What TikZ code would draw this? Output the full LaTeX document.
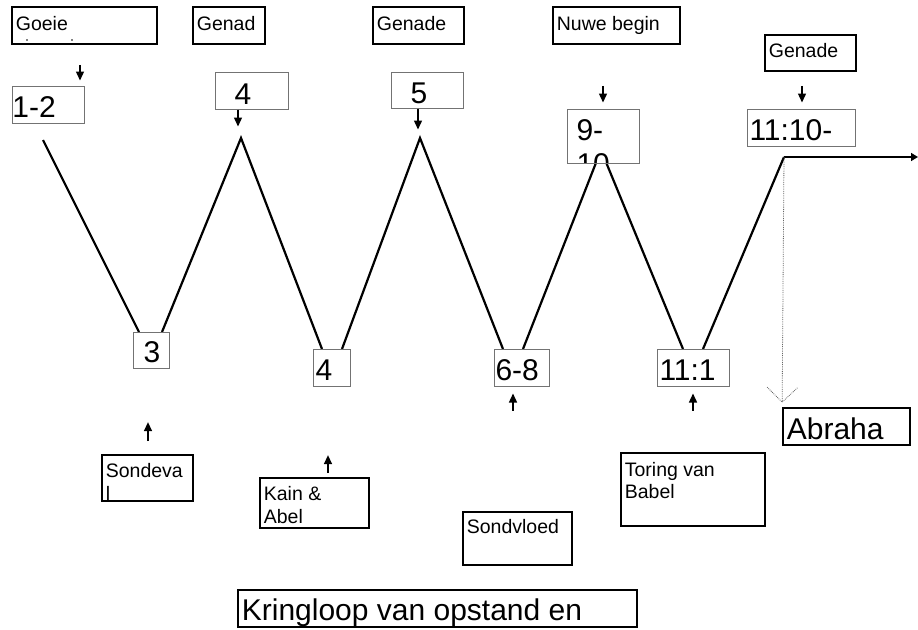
\documentclass[tikz,border=0pt]{standalone}
\usepackage{fontspec}
\setmainfont{Liberation Sans}
\usetikzlibrary{arrows.meta}
\newcommand\stxt[3]{\node[anchor=base west, inner sep=0pt, minimum width=0pt, minimum height=0pt, draw=none, fill=none, font=\fontsize{19.5}{22.5}\selectfont] at ([shift={(#1,#2)}]path picture bounding box.north west) {#3};}
\newcommand\ltxt[3]{\node[anchor=base west, inner sep=0pt, minimum width=0pt, minimum height=0pt, draw=none, fill=none, font=\fontsize{30}{34}\selectfont] at ([shift={(#1,#2)}]path picture bounding box.north west) {#3};}
\begin{document}
\begin{tikzpicture}[x=1pt,y=-1pt,
  tbox/.style={rectangle, draw=black, line width=1.7pt, fill=white, inner sep=0pt},
  nbox/.style={rectangle, draw=black!55, line width=1pt, fill=white, inner sep=0pt},
  zig/.style={line width=2.2pt, line join=miter},
  darr/.style={line width=1.4pt, -{Triangle[width=8pt,length=9pt]}},
  dotline/.style={draw=black!60, line width=0.8pt, densely dotted},
]
\useasboundingbox (0,0) rectangle (918,629);

% zigzag
\draw[zig] (43,140) -- (139,332);
\draw[zig] (162,332) -- (241,138) -- (322,349);
\draw[zig] (342,349) -- (420,138) -- (503,349);
\draw[zig] (523,349) -- (601,150) -- (683,349);
\coordinate (hstart) at (784,157);
\coordinate (hend) at (918,157);
\draw[zig] (703,349) -- (hstart);
\draw[line width=1.5pt, -{Triangle[width=8pt,length=7pt]}] (hstart) -- (hend);

% top text boxes
\node[tbox, minimum width=145pt, minimum height=37pt, path picture={\stxt{3}{23}{Goeie}}] (goeie) at (84.5,25.5) {};
\fill (27,40) circle (0.9pt);
\fill (72,40) circle (0.9pt);
\node[tbox, minimum width=72pt, minimum height=37pt, path picture={\stxt{3}{23}{Genad}}] (genad) at (229,25.5) {};
\node[tbox, minimum width=91pt, minimum height=37pt, path picture={\stxt{3}{23}{Genade}}] (genadeA) at (418.5,25.5) {};
\node[tbox, minimum width=127pt, minimum height=37pt, path picture={\stxt{3}{23}{Nuwe begin}}] (nuwe) at (616.5,25.5) {};
\node[tbox, minimum width=91pt, minimum height=36pt, path picture={\stxt{3}{22.5}{Genade}}] (genadeB) at (810.5,53) {};

% number boxes top
\node[nbox, minimum width=72pt, minimum height=37pt, path picture={\ltxt{0}{31}{1-2}}] (b12) at (48,104.5) {};
\node[nbox, minimum width=73pt, minimum height=37pt, path picture={\ltxt{19}{32}{4}}] (b4t) at (251.5,90.5) {};
\node[nbox, minimum width=72pt, minimum height=36pt, path picture={\ltxt{19}{31}{5}}] (b5) at (427,90) {};
\node[nbox, minimum width=72pt, minimum height=54pt, path picture={\ltxt{9}{31}{9-}\ltxt{9}{65}{10}}] (b910) at (603,136) {};
\node[nbox, minimum width=108pt, minimum height=37pt, path picture={\ltxt{2}{31}{11:10-}}] (b1110) at (801,127.5) {};

% number boxes bottom
\node[nbox, minimum width=36pt, minimum height=36pt, path picture={\ltxt{10}{30}{3}}] (b3) at (151,350) {};
\node[nbox, minimum width=37pt, minimum height=37pt, path picture={\ltxt{2}{31}{4}}] (b4b) at (331.5,367.5) {};
\node[nbox, minimum width=55pt, minimum height=37pt, path picture={\ltxt{1}{31}{6-8}}] (b68) at (521.5,367.5) {};
\node[nbox, minimum width=72pt, minimum height=37pt, path picture={\ltxt{2}{31}{11:1}}] (b111) at (693,367.5) {};

% bottom text boxes
\node[tbox, minimum width=91pt, minimum height=46pt, path picture={\stxt{3}{22.5}{Sondeva}\stxt{3}{45}{l}}] (sondeval) at (147.5,478) {};
\node[tbox, minimum width=109pt, minimum height=50pt, path picture={\stxt{3}{22}{Kain \&}\stxt{3}{45}{Abel}}] (kain) at (314.5,503) {};
\node[tbox, minimum width=109pt, minimum height=53pt, path picture={\stxt{3}{21}{Sondvloed}}] (sondvloed) at (517.5,538.5) {};
\node[tbox, minimum width=144pt, minimum height=73pt, path picture={\stxt{3}{23}{Toring van}\stxt{3}{45}{Babel}}] (toring) at (693,489.5) {};
\node[tbox, minimum width=127pt, minimum height=37pt, path picture={\ltxt{3}{31}{Abraha}}] (abraha) at (846.5,426.5) {};
\node[tbox, minimum width=399pt, minimum height=37pt, path picture={\ltxt{3}{30}{Kringloop van opstand en}}] (kring) at (437.5,608.5) {};

% down arrows
\draw[darr] ([xshift=-4.5pt,yshift=-20pt]goeie.south) -- ([xshift=32pt,yshift=5pt]b12.north);
\draw[darr] ([xshift=-13.5pt]b4t.south) -- ([xshift=-13.5pt,yshift=-17pt]b4t.south);
\draw[darr] ([xshift=-9pt]b5.south) -- ([xshift=-9pt,yshift=-21pt]b5.south);
\draw[darr] ([xshift=-13.5pt,yshift=-41pt]nuwe.south) -- ([yshift=6pt]b910.north);
\draw[darr] ([xshift=-8.5pt,yshift=-14pt]genadeB.south) -- ([xshift=1pt,yshift=6pt]b1110.north);

% up arrows
\draw[darr] ([xshift=0.5pt,yshift=13pt]sondeval.north) -- ([xshift=0.5pt,yshift=32pt]sondeval.north);
\draw[darr] ([xshift=13.5pt,yshift=4pt]kain.north) -- ([xshift=13.5pt,yshift=22pt]kain.north);
\draw[darr] ([xshift=-8.5pt,yshift=-24pt]b68.south) -- ([xshift=-8.5pt,yshift=-7pt]b68.south);
\draw[darr] ([yshift=-24pt]b111.south) -- ([yshift=-7pt]b111.south);

% dotted arrow to Abraha
\coordinate (dtip) at ([yshift=5pt]abraha.north west);
\coordinate (dl) at ([xshift=-15pt,yshift=20pt]abraha.north west);
\coordinate (dr) at ([xshift=16pt,yshift=20pt]abraha.north west);
\draw[dotline] (hstart) -- (dtip);
\draw[dotline] (dl) -- (dtip) -- (dr);
\end{tikzpicture}
\end{document}
